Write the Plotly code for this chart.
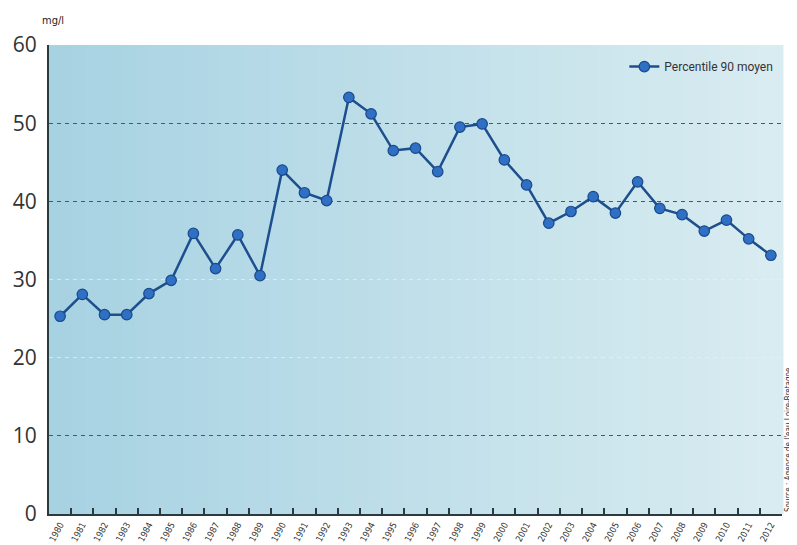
import plotly.graph_objects as go

years = [str(y) for y in range(1980, 2013)]
values = [25.3, 28.1, 25.5, 25.5, 28.2, 29.9, 35.9, 31.4, 35.7, 30.5,
          44.0, 41.1, 40.1, 53.3, 51.2, 46.5, 46.8, 43.8, 49.5, 49.9,
          45.3, 42.1, 37.2, 38.7, 40.6, 38.5, 42.5, 39.1, 38.3, 36.2,
          37.6, 35.2, 33.1]
series_name = "Percentile 90 moyen"
y_ticks = [0, 10, 20, 30, 40, 50, 60]
dark_grid = [10, 40, 50]
faint_grid = [20, 30]

fig = go.Figure()

# gradient background via stripes
n = 60
c0 = (167, 210, 226)
c1 = (217, 236, 241)
shapes = []
for i in range(n):
    t = i / (n - 1)
    c = tuple(int(round(c0[k] + (c1[k] - c0[k]) * t)) for k in range(3))
    shapes.append(dict(type="rect", xref="paper", yref="paper",
                       x0=i / n, x1=(i + 1) / n + 0.002, y0=0, y1=1,
                       fillcolor=f"rgb{c}", line=dict(width=0), layer="below"))

fig.add_trace(go.Scatter(x=years, y=values, yaxis="y2", mode="lines",
                         line=dict(width=0), showlegend=False, hoverinfo="skip",
                         opacity=0))
fig.add_trace(go.Scatter(x=years, y=values, yaxis="y3", mode="lines",
                         line=dict(width=0), showlegend=False, hoverinfo="skip",
                         opacity=0))
fig.add_trace(go.Scatter(
    x=years, y=values, name=series_name, mode="lines+markers",
    line=dict(color="#1d4f8f", width=2.5),
    marker=dict(size=10.5, color="#2f6fc4", line=dict(color="#1a4a8a", width=1.2)),
))

fig.update_layout(
    width=789, height=537,
    margin=dict(l=41, r=15, t=37, b=31, autoexpand=False),
    paper_bgcolor="white",
    plot_bgcolor="rgba(0,0,0,0)",
    shapes=shapes,
    showlegend=True,
    legend=dict(x=0.995, y=0.985, xanchor="right", yanchor="top",
                bgcolor="rgba(0,0,0,0)", font=dict(family="Roboto, Arial", size=12, color="#333")),
    xaxis=dict(
        type="category", range=[-0.5, 32.5], showgrid=False, automargin=False,
        showline=True, linecolor="#2b3a3f", linewidth=2,
        ticks="inside", tickson="boundaries", ticklen=6, tickwidth=2, tickcolor="#2b3a3f",
        tickangle=-62, ticklabelstandoff=0,
        tickfont=dict(family="DejaVu Sans Condensed, DejaVu Sans", size=9, color="#333"),
        zeroline=False,
    ),
    yaxis=dict(
        range=[0, 60], tickmode="array", tickvals=y_ticks, automargin=False,
        showgrid=False, zeroline=False,
        showline=True, linecolor="#2b3a3f", linewidth=2,
        tickfont=dict(family="Open Sans", size=21, color="#333"),
        ticks="", ticklabelstandoff=6,
    ),
    yaxis2=dict(
        range=[0, 60], overlaying="y", tickmode="array", tickvals=dark_grid,
        showgrid=True, gridcolor="#4a5a60", griddash="4px,4px", gridwidth=1.3,
        showticklabels=False, zeroline=False, showline=False, automargin=False,
    ),
    yaxis3=dict(
        range=[0, 60], overlaying="y", tickmode="array", tickvals=faint_grid,
        showgrid=True, gridcolor="rgba(230,242,246,0.7)", griddash="4px,4px", gridwidth=1,
        showticklabels=False, zeroline=False, showline=False, automargin=False,
    ),
    annotations=[
        dict(text="mg/l", xref="paper", yref="paper", x=-0.012, y=1.035,
             xanchor="left", yanchor="bottom", showarrow=False,
             font=dict(family="DejaVu Sans Condensed", size=11, color="#222")),
        dict(text="Source : Agence de l'eau Loire-Bretagne", xref="paper", yref="paper",
             x=1.0, y=0.0, xanchor="left", yanchor="bottom", textangle=-90,
             showarrow=False, font=dict(family="DejaVu Sans Condensed", size=8, color="#333")),
    ],
)

fig.write_html("out.html")
